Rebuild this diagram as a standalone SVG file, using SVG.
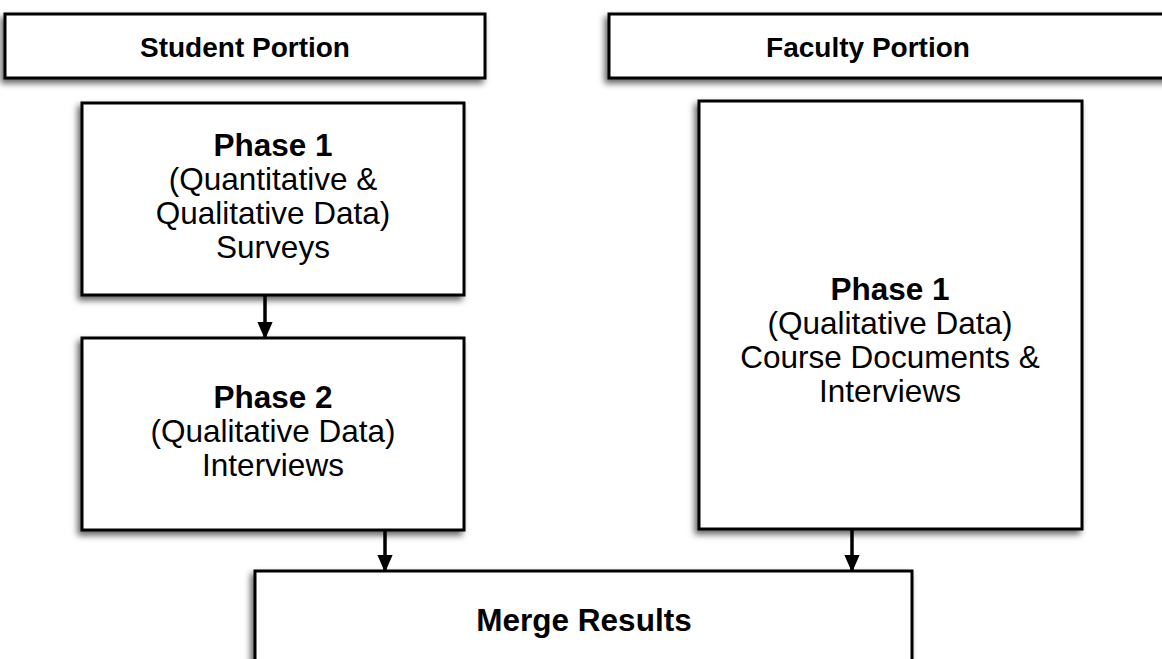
<svg xmlns="http://www.w3.org/2000/svg" width="1162" height="659" viewBox="0 0 1162 659">
<style>
.box{fill:#fff;stroke:#000;stroke-width:3;filter:url(#sh)}
.t{font-family:"Liberation Sans",Arial,sans-serif;font-size:31.5px;fill:#000;text-anchor:middle}
.b{font-weight:bold}
.h{font-size:28px}
.c{stroke:#000;stroke-width:3.5;fill:none;marker-end:url(#ah)}
</style>
<defs>
<filter id="sh" x="-10%" y="-10%" width="120%" height="130%">
<feDropShadow dx="-3" dy="4" stdDeviation="3" flood-color="#000" flood-opacity="0.6"/>
</filter>
<marker id="ah" markerWidth="5" markerHeight="4.4" refX="4.6" refY="2.2" orient="auto" markerUnits="strokeWidth">
<path d="M0,0 L5,2.2 L0,4.4 Z" fill="#000"/>
</marker>
</defs>
<rect width="1162" height="659" fill="#fff"/>
<g id="student-portion"><rect class="box" x="5" y="14" width="480" height="64"/><text class="t b h" x="245" y="57">Student Portion</text></g>
<g id="faculty-portion"><rect class="box" x="609" y="14" width="580" height="64"/><text class="t b h" x="868" y="57">Faculty Portion</text></g>
<g id="student-phase1"><rect class="box" x="82" y="103" width="382" height="192"/>
<text class="t b" x="273" y="156">Phase 1</text>
<text class="t" x="273" y="190">(Quantitative &amp;</text>
<text class="t" x="273" y="224">Qualitative Data)</text>
<text class="t" x="273" y="258">Surveys</text></g>
<g id="student-phase2"><rect class="box" x="82" y="338" width="382" height="192"/>
<text class="t b" x="273" y="408">Phase 2</text>
<text class="t" x="273" y="442">(Qualitative Data)</text>
<text class="t" x="273" y="476">Interviews</text></g>
<g id="faculty-phase1"><rect class="box" x="699" y="101" width="383" height="428"/>
<text class="t b" x="890" y="300">Phase 1</text>
<text class="t" x="890" y="334">(Qualitative Data)</text>
<text class="t" x="890" y="368">Course Documents &amp;</text>
<text class="t" x="890" y="402">Interviews</text></g>
<g id="merge"><rect class="box" x="255" y="571" width="657" height="110"/>
<text class="t b" x="584" y="631">Merge Results</text></g>
<g id="connectors">
<line class="c" x1="265" y1="296" x2="265" y2="338"/>
<line class="c" x1="385" y1="531" x2="385" y2="571"/>
<line class="c" x1="852" y1="530" x2="852" y2="571"/>
</g>
</svg>
